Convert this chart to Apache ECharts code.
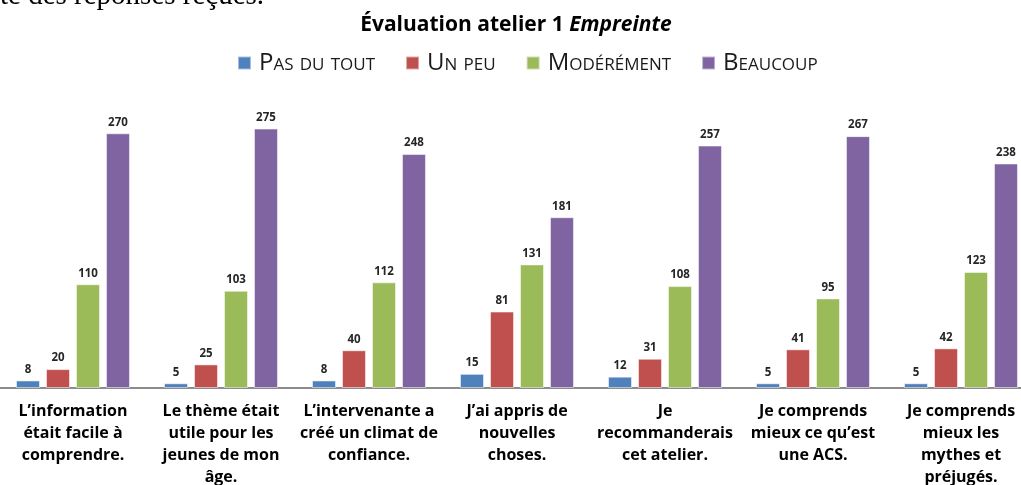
<!DOCTYPE html>
<html>
<head>
<meta charset="utf-8">
<script src="https://cdn.jsdelivr.net/npm/echarts@6/dist/echarts.min.js"></script>
<style>
html,body{margin:0;padding:0;background:#fff;}
#chart{width:1021px;height:485px;}
</style>
</head>
<body>
<div id="chart"></div>
<script>
const categories = [
  "L’information\nétait facile à\ncomprendre.",
  "Le thème était\nutile pour les\njeunes de mon\nâge.",
  "L’intervenante a\ncréé un climat de\nconfiance.",
  "J’ai appris de\nnouvelles\nchoses.",
  "Je\nrecommanderais\ncet atelier.",
  "Je comprends\nmieux ce qu’est\nune ACS.",
  "Je comprends\nmieux les\nmythes et\npréjugés."
];
const seriesNames = ["Pas du tout", "Un peu", "Modérément", "Beaucoup"];
const pasDuTout = [8, 5, 8, 15, 12, 5, 5];
const unPeu = [20, 25, 40, 81, 31, 41, 42];
const moderement = [110, 103, 112, 131, 108, 95, 123];
const beaucoup = [270, 275, 248, 181, 257, 267, 238];
const colors = ["#4F81BD", "#C0504D", "#9BBB59", "#8064A2"];

const FONT = "'Open Sans', Lato, sans-serif";
const chart = echarts.init(document.getElementById('chart'), null, {renderer: 'canvas'});
const values = [pasDuTout, unPeu, moderement, beaucoup];

chart.setOption({
  animation: false,
  backgroundColor: '#ffffff',
  graphic: [
    {
      type: 'text', x: 0, y: -3.5,
      style: {
        text: 'te des réponses reçues.',
        font: "29px 'Liberation Serif', serif",
        fill: '#000', align: 'left', verticalAlign: 'middle'
      }
    },
    {
      type: 'text', x: 516, y: 25,
      style: {
        text: '{a|Évaluation atelier 1 }{b|Empreinte}',
        align: 'center', verticalAlign: 'middle',
        rich: {
          a: {fontFamily: FONT, fontWeight: 'bold', fontSize: 21, fill: '#000', color: '#000'},
          b: {fontFamily: FONT, fontWeight: 'bold', fontStyle: 'italic', fontSize: 21, fill: '#000', color: '#000'}
        }
      }
    }
  ],
  legend: {
    data: seriesNames,
    left: 237, top: 51, padding: 0,
    itemWidth: 13, itemHeight: 13, itemGap: 30,
    icon: 'rect',
    textStyle: {fontFamily: FONT, fontSize: 24, fontStyle: 'small-caps', color: '#1a1a1a', padding: [0,0,0,3]}
  },
  grid: {left: -1, right: -14, top: 105, bottom: 97, containLabel: false, outerBoundsMode: 'none'},
  xAxis: {
    type: 'category', data: categories,
    axisLine: {lineStyle: {color: '#8c8c8c', width: 2}},
    axisTick: {show: false},
    axisLabel: {interval: 0, margin: 12, fontFamily: FONT, fontWeight: 'bold', fontSize: 16, lineHeight: 22, color: '#000', align: 'center'}
  },
  yAxis: {type: 'value', min: 0, max: 300, show: false, splitLine: {show: false}},
  series: seriesNames.map((n, i) => ({
    name: n, type: 'bar', data: values[i],
    barGap: '25%', barCategoryGap: '23%',
    itemStyle: {color: colors[i], borderColor: 'rgba(255,255,255,0.5)', borderWidth: 1},
    label: {show: true, position: 'top', distance: 5, fontFamily: FONT, fontWeight: 'bold', fontSize: 11.5, color: '#262626'}
  }))
});
</script>
</body>
</html>
